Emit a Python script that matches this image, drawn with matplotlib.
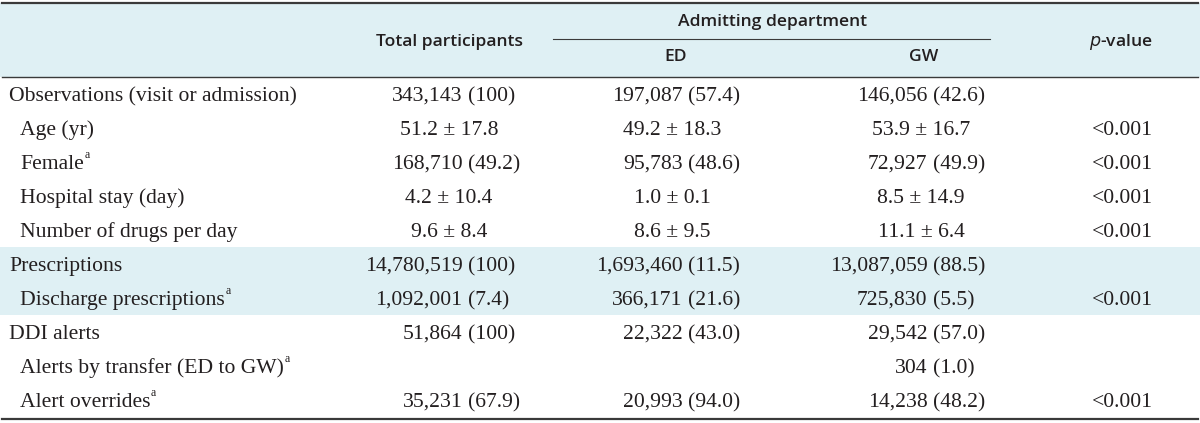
import matplotlib
matplotlib.use("Agg")
import matplotlib.pyplot as plt

# table content
labels = ["Observations (visit or admission)", "Age (yr)", "Female", "Hospital stay (day)",
          "Number of drugs per day", "Prescriptions", "Discharge prescriptions", "DDI alerts",
          "Alerts by transfer (ED to GW)", "Alert overrides"]
indent = [0, 1, 1, 1, 1, 0, 1, 0, 1, 1]
footnote = [0, 0, 1, 0, 0, 0, 1, 0, 1, 1]
total = ["343,143 (100)", "51.2 ± 17.8", "168,710 (49.2)", "4.2 ± 10.4", "9.6 ± 8.4",
         "14,780,519 (100)", "1,092,001 (7.4)", "51,864 (100)", "", "35,231 (67.9)"]
ed = ["197,087 (57.4)", "49.2 ± 18.3", "95,783 (48.6)", "1.0 ± 0.1", "8.6 ± 9.5",
      "1,693,460 (11.5)", "366,171 (21.6)", "22,322 (43.0)", "", "20,993 (94.0)"]
gw = ["146,056 (42.6)", "53.9 ± 16.7", "72,927 (49.9)", "8.5 ± 14.9", "11.1 ± 6.4",
      "13,087,059 (88.5)", "725,830 (5.5)", "29,542 (57.0)", "304 (1.0)", "14,238 (48.2)"]
pval = ["", "<0.001", "<0.001", "<0.001", "<0.001", "", "<0.001", "", "", "<0.001"]
shaded_rows = [5, 6]

W, H = 1200, 423
band = "#dff0f4"
ink = "#231f20"
serif = "Liberation Serif"
sans = "Open Sans"
body_fs = 15.6
head_fs = 12.6

fig = plt.figure(figsize=(W / 100, H / 100), dpi=100)
ax = fig.add_axes([0, 0, 1, 1])
ax.set_xlim(0, W)
ax.set_ylim(H, 0)
ax.axis("off")

head_top, head_bot = 3, 77
row_h = 34

ax.axhspan(head_top, head_bot, color=band, lw=0)
for r in shaded_rows:
    ax.axhspan(head_bot + r * row_h, head_bot + (r + 1) * row_h, color=band, lw=0)

ax.plot([2, W - 2], [head_top, head_top], color="#3a3a3a", lw=1.6)
ax.plot([2, W - 2], [head_bot, head_bot], color="#3a3a3a", lw=1.0)
ax.plot([553, 990], [39, 39], color="#3a3a3a", lw=0.8)
ax.plot([2, W - 2], [head_bot + len(labels) * row_h + 2] * 2, color="#3a3a3a", lw=1.6)

# header
hkw = dict(family=sans, fontsize=head_fs, weight="semibold", color=ink, ha="center", va="center")
ax.text(450, 42, "Total participants", **hkw)
ax.text(773, 22, "Admitting department", **hkw)
ax.text(676, 57, "ED", **hkw)
ax.text(924, 57, "GW", **hkw)
ax.text(1121, 42, "$p$-value", **hkw)

fig.canvas.draw()
renderer = fig.canvas.get_renderer()

col_center = [449, 672, 921]
col_paren = [468, 688, 933]
bkw = dict(family=serif, fontsize=body_fs, color=ink, va="baseline")


def cell(x_center, x_paren, y, s):
    if not s:
        return
    if "(" in s:
        num, pct = s.split(" (")
        ax.text(x_paren - 5.5, y, num, ha="right", **bkw)
        ax.text(x_paren, y, "(" + pct, ha="left", **bkw)
    else:
        ax.text(x_center, y, s, ha="center", **bkw)


for i, lab in enumerate(labels):
    y = head_bot + i * row_h + row_h / 2 + 7
    x0 = 20 if indent[i] else 9
    t = ax.text(x0, y, lab, ha="left", **bkw)
    if footnote[i]:
        bb = t.get_window_extent(renderer)
        ax.text(bb.x1 + 0.5, y - 11, "a", family=serif, fontsize=8.5, color=ink,
                ha="left", va="baseline")
    for c, col in enumerate([total, ed, gw]):
        cell(col_center[c], col_paren[c], y, col[i])
    if pval[i]:
        ax.text(1122, y, pval[i], ha="center", **bkw)

fig.savefig("out.png", dpi=100)
